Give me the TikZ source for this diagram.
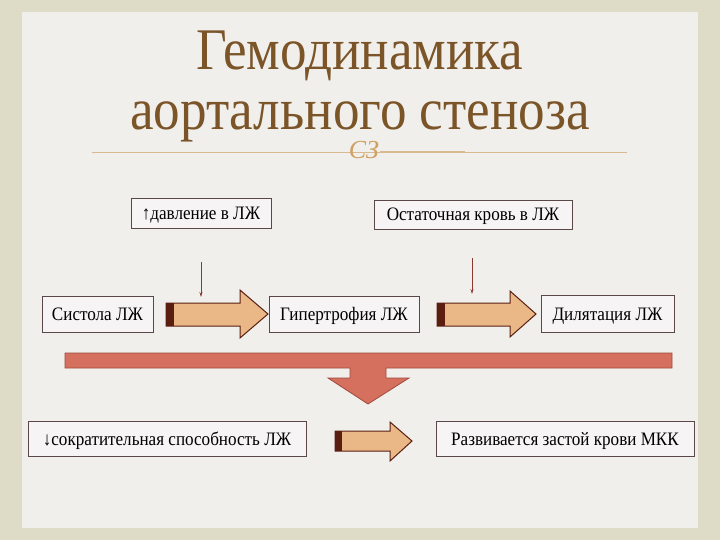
\documentclass[tikz,border=0pt]{standalone}
\usepackage{fontspec}
\setmainfont{Liberation Serif}
\newfontfamily\narrow[FakeStretch=0.9]{Liberation Serif}
\usetikzlibrary{arrows.meta}
\definecolor{frame}{HTML}{DEDBC6}
\definecolor{inner}{HTML}{F0EFEC}
\definecolor{titlec}{HTML}{7B5428}
\definecolor{tan}{HTML}{D8B890}
\definecolor{orncol}{HTML}{CFA060}
\definecolor{boxfill}{HTML}{F6F4F4}
\definecolor{boxline}{HTML}{5A4848}
\definecolor{arrfill}{HTML}{E9B886}
\definecolor{arrdark}{HTML}{5A1E10}
\definecolor{barfill}{HTML}{D6705E}
\definecolor{barline}{HTML}{A04A3C}
\definecolor{thin}{HTML}{8A3A30}
\tikzset{
  lbl/.style={draw=boxline, fill=boxfill, line width=0.6pt, font=\narrow\fontsize{19}{21}\selectfont, inner sep=0pt, text height=13pt, text depth=0pt, anchor=center},
  blk/.style={fill=arrfill, draw=arrdark, line width=1pt},
  thinarr/.style={draw=thin, line width=0.7pt, -{Stealth[length=5pt,width=3pt]}}
}
\begin{document}
\begin{tikzpicture}[x=1pt,y=-1pt]
\useasboundingbox (0,0) rectangle (720,540);
\fill[frame] (0,0) rectangle (720,540);
\fill[inner] (22,12) rectangle (698,528);
% title
\node[text=titlec, font=\narrow\fontsize{59}{60}\selectfont, align=center] (title) at (360,86) {Гемодинамика\\аортального стеноза};
\draw[tan, line width=0.8pt] (92,152) -- (627,152);
\draw[tan, line width=2pt] (380,152) -- (465,152);
\node[text=orncol, font=\fontsize{26}{26}\selectfont\itshape] (orn) at (364,150) {СЗ};
% boxes
\node[lbl, minimum width=140, minimum height=30] (p) at (201,213) {↑давление в ЛЖ};
\node[lbl, minimum width=198, minimum height=29] (r) at (473,214.5) {Остаточная кровь в ЛЖ};
\node[lbl, minimum width=111, minimum height=36] (s) at (97.5,314) {Систола ЛЖ};
\node[lbl, minimum width=150, minimum height=36] (h) at (344,314) {Гипертрофия ЛЖ};
\node[lbl, minimum width=133, minimum height=37] (d) at (607.5,313.5) {Дилятация ЛЖ};
\node[lbl, minimum width=278, minimum height=35] (c) at (167,438.5) {↓сократительная способность ЛЖ};
\node[lbl, minimum width=258, minimum height=35] (z) at (565,438.5) {Развивается застой крови МКК};
% block arrows
\draw[blk] (166,303) -- (240,303) -- (240,290) -- (268,314) -- (240,338) -- (240,326) -- (166,326) -- cycle;
\fill[arrdark] (166,303) rectangle (174,326);
\draw[blk] (437,303) -- (510,303) -- (510,291) -- (536,314) -- (510,337) -- (510,326) -- (437,326) -- cycle;
\fill[arrdark] (437,303) rectangle (445,326);
\draw[blk] (335,431) -- (390,431) -- (390,422) -- (412,441) -- (390,461) -- (390,451) -- (335,451) -- cycle;
\fill[arrdark] (335,431) rectangle (342,451);
% thin arrows
\coordinate (t1) at (201,297);
\coordinate (t2) at (472,294);
\draw[thinarr] (201,262) -- (t1);
\draw[thinarr] (472,258) -- (t2);
% bar and down arrow
\draw[fill=barfill, draw=barline, line width=0.8pt] (65,353) -- (672,353) -- (672,368) -- (386,368) -- (386,378) -- (409,378) -- (368,404) -- (328,378) -- (350,378) -- (350,368) -- (65,368) -- cycle;
\end{tikzpicture}
\end{document}
